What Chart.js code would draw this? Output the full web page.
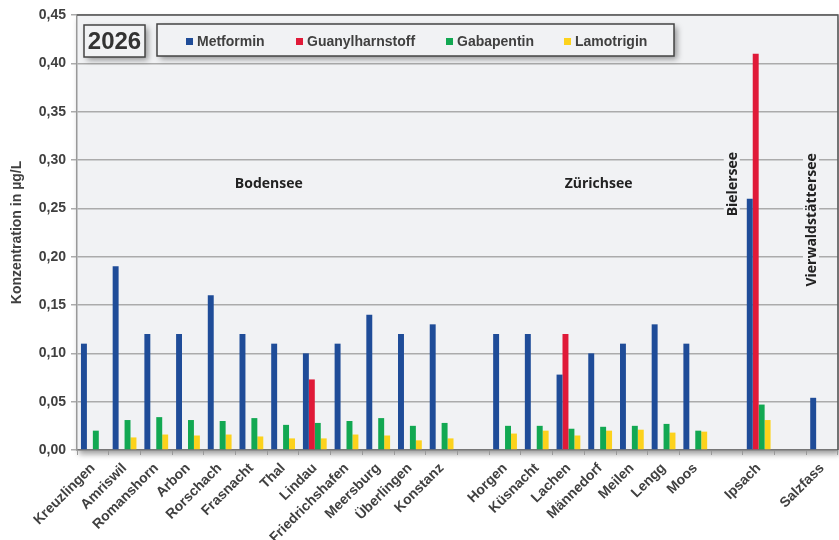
<!DOCTYPE html>
<html>
<head>
<meta charset="utf-8">
<script src="https://cdn.jsdelivr.net/npm/chart.js@4"></script>
<style>
  html, body { margin: 0; padding: 0; background: #fff; }
</style>
</head>
<body>
<canvas id="myChart" width="839" height="540"></canvas>
<script>
// sampling sites, "" = gap between lakes
const sites = [
  "Kreuzlingen", "Amriswil", "Romanshorn", "Arbon", "Rorschach", "Frasnacht", "Thal",
  "Lindau", "Friedrichshafen", "Meersburg", "Überlingen", "Konstanz", "",
  "Horgen", "Küsnacht", "Lachen", "Männedorf", "Meilen", "Lengg", "Moos", "",
  "Ipsach", "", "Salzfass"
];
const metformin = [
  0.11, 0.19, 0.12, 0.12, 0.16, 0.12, 0.11, 0.10, 0.11, 0.14, 0.12, 0.13, null,
  0.12, 0.12, 0.078, 0.10, 0.11, 0.13, 0.11, null,
  0.26, null, 0.054
];
const guanylharnstoff = [
  null, null, null, null, null, null, null, 0.073, null, null, null, null, null,
  null, null, 0.12, null, null, null, null, null,
  0.41, null, null
];
const gabapentin = [
  0.020, 0.031, 0.034, 0.031, 0.030, 0.033, 0.026, 0.028, 0.030, 0.033, 0.025, 0.028, null,
  0.025, 0.025, 0.022, 0.024, 0.025, 0.027, 0.020, null,
  0.047, null, null
];
const lamotrigin = [
  null, 0.013, 0.016, 0.015, 0.016, 0.014, 0.012, 0.012, 0.016, 0.015, 0.010, 0.012, null,
  0.017, 0.020, 0.015, 0.020, 0.021, 0.018, 0.019, null,
  0.031, null, null
];
// lake captions: [text, category position, value position, vertical]
const lakes = [
  ["Bodensee", 5.55, 0.276, false],
  ["Zürichsee", 15.95, 0.276, false],
  ["Bielersee", 20.15, 0.275, true],
  ["Vierwaldstättersee", 22.65, 0.238, true]
];
const yearLabel = "2026";

const FONT = "'Liberation Sans', Arial, sans-serif";
const LAKE_FONT = "'Open Sans', 'Noto Sans', sans-serif";
const TXT = "#404040";
const PLOT_BG = "#F1F2F4";

const framePlugin = {
  id: "frame",
  beforeDraw(chart) {
    const { ctx, chartArea: a } = chart;
    ctx.save();
    ctx.shadowColor = "rgba(0,0,0,0.4)";
    ctx.shadowBlur = 6;
    ctx.shadowOffsetX = 2;
    ctx.shadowOffsetY = 4;
    ctx.fillStyle = PLOT_BG;
    ctx.fillRect(a.left, a.top, a.right - a.left, a.bottom - a.top);
    ctx.restore();
  },
  beforeDatasetsDraw(chart) {
    const { ctx, chartArea: a, scales } = chart;
    const x = scales.x, y = scales.y;
    const step = x.getPixelForValue(1) - x.getPixelForValue(0);
    ctx.save();
    ctx.font = "bold 14px " + LAKE_FONT;
    ctx.textAlign = "center";
    ctx.textBaseline = "middle";
    lakes.forEach(([t, pos, val, vert]) => {
      const px = x.getPixelForValue(0) + pos * step;
      const py = y.getPixelForValue(val);
      const w = ctx.measureText(t).width;
      ctx.save();
      ctx.translate(px, py);
      if (vert) ctx.rotate(-Math.PI / 2);
      ctx.fillStyle = PLOT_BG;
      ctx.fillRect(-w / 2 - 8, -8, w + 16, 16);
      ctx.fillStyle = "#222";
      ctx.fillText(t, 0, 1);
      ctx.restore();
    });
    // frame top and right
    ctx.strokeStyle = "#555";
    ctx.lineWidth = 1.5;
    ctx.beginPath();
    ctx.moveTo(a.left, a.top);
    ctx.lineTo(a.right, a.top);
    ctx.lineTo(a.right, a.bottom);
    ctx.stroke();
    ctx.restore();
  },
  afterDraw(chart) {
    const { ctx, chartArea: a } = chart;
    ctx.save();
    // year box + legend box
    const boxes = [[a.left + 7, a.top + 10, 61, 32], [a.left + 80, a.top + 9, 517, 32]];
    boxes.forEach(([bx, by, bw, bh]) => {
      ctx.save();
      ctx.shadowColor = "rgba(0,0,0,0.4)";
      ctx.shadowBlur = 6;
      ctx.shadowOffsetX = 3;
      ctx.shadowOffsetY = 3;
      ctx.fillStyle = PLOT_BG;
      ctx.fillRect(bx, by, bw, bh);
      ctx.restore();
      ctx.strokeStyle = "#444";
      ctx.lineWidth = 1.5;
      ctx.strokeRect(bx, by, bw, bh);
    });
    ctx.fillStyle = "#333";
    ctx.font = "bold 24px " + FONT;
    ctx.textAlign = "center";
    ctx.textBaseline = "middle";
    ctx.fillText(yearLabel, a.left + 7 + 30.5, a.top + 27);
    // legend entries
    const itemX = [186, 296, 446, 564];
    ctx.font = "bold 14px " + FONT;
    ctx.textAlign = "left";
    chart.data.datasets.forEach((ds, i) => {
      const lx = itemX[i];
      ctx.fillStyle = ds.backgroundColor;
      ctx.fillRect(lx, a.top + 23, 7, 7);
      ctx.fillStyle = TXT;
      ctx.fillText(ds.label, lx + 11, a.top + 27);
    });
    ctx.restore();
  }
};

new Chart(document.getElementById("myChart").getContext("2d"), {
  type: "bar",
  data: {
    labels: sites,
    datasets: [
      { label: "Metformin", data: metformin, backgroundColor: "#1F4C98" },
      { label: "Guanylharnstoff", data: guanylharnstoff, backgroundColor: "#E01A38" },
      { label: "Gabapentin", data: gabapentin, backgroundColor: "#12A852" },
      { label: "Lamotrigin", data: lamotrigin, backgroundColor: "#FCD21C" }
    ]
  },
  options: {
    responsive: false,
    devicePixelRatio: 1,
    animation: false,
    layout: { padding: { top: 15, right: 1, left: 0, bottom: 0 } },
    datasets: { bar: { categoryPercentage: 0.75, barPercentage: 1.0 } },
    plugins: { legend: { display: false }, tooltip: { enabled: false } },
    scales: {
      x: {
        grid: { drawOnChartArea: false, offset: true, tickLength: 5, color: "#999" },
        border: { color: "#777", width: 1.5 },
        ticks: {
          autoSkip: false, maxRotation: 45, minRotation: 45, padding: 5,
          color: TXT, font: { family: FONT, size: 14, weight: "bold" }
        },
        afterFit(scale) { scale.height = 90; }
      },
      y: {
        min: 0, max: 0.45,
        grid: { color: "#ABABAB", lineWidth: 1.5, tickLength: 6 },
        border: { color: "#999", width: 1.5 },
        ticks: {
          stepSize: 0.05, padding: 5,
          color: TXT, font: { family: FONT, size: 14, weight: "bold" },
          callback: v => v.toFixed(2).replace(".", ",")
        },
        title: {
          display: true, text: "Konzentration in µg/L", padding: { top: 9, bottom: 0 },
          color: TXT, font: { family: FONT, size: 14, weight: "bold" }
        },
        afterFit(scale) { scale.width = 77; }
      }
    }
  },
  plugins: [framePlugin]
});
</script>
</body>
</html>
